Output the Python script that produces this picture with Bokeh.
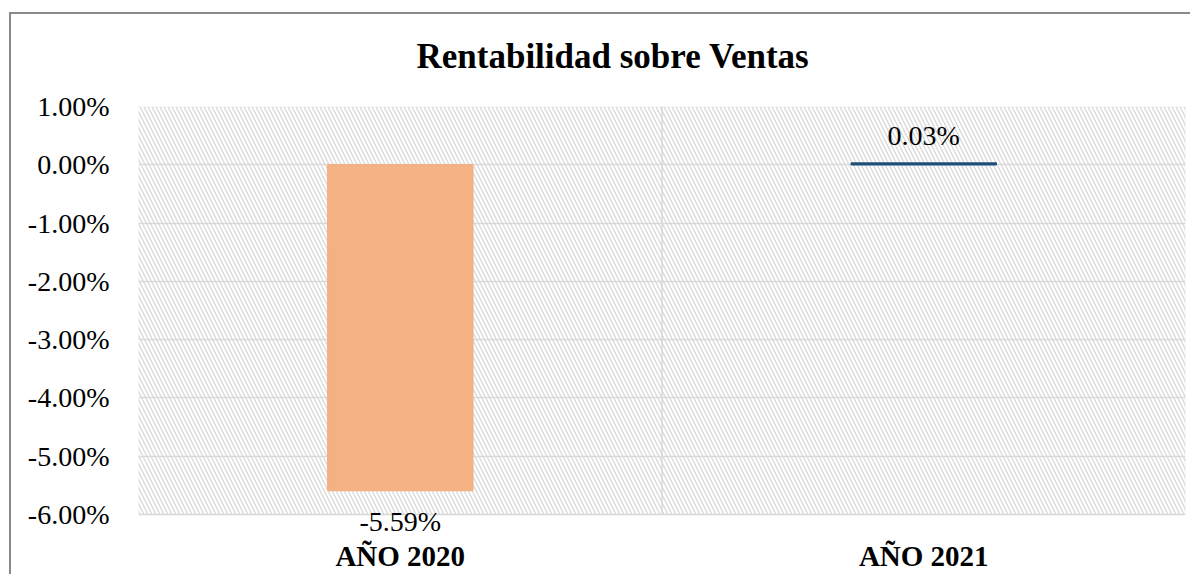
from bokeh.plotting import figure
from bokeh.models import (ColumnDataSource, Range1d, FactorRange, SingleIntervalTicker,
                          PrintfTickFormatter, BoxAnnotation, LabelSet, Title)
from bokeh.embed import file_html
from bokeh.resources import INLINE

# ---- data ----
categories = ["AÑO 2020", "AÑO 2021"]
values = [-5.59, 0.03]
value_labels = ["-5.59%", "0.03%"]
bar_colors = ["#F4B183", "#1F4E79"]
label_offsets = [-31, 28]
title_text = "Rentabilidad sobre Ventas"

# axis limits (visible plot area) and extra room below for the data label
y_min, y_max = -6, 1
y_pad = 0.36

FONT = "Liberation Serif"

src = ColumnDataSource(dict(cat=categories, val=values, lab=value_labels,
                            col=bar_colors, off=label_offsets))

p = figure(x_range=FactorRange(*categories), y_range=Range1d(y_min - y_pad, y_max),
           title=None,
           width=1181, height=562, output_backend="svg", toolbar_location=None,
           min_border_left=127, min_border_right=7, min_border_top=92, min_border_bottom=41)
p.styles = {"border-left": "2px solid #8a8a8a", "border-top": "2px solid #8a8a8a",
            "margin-left": "9px", "margin-top": "12px"}

# spacer panel between the plot area and the title, then the title itself
p.add_layout(Title(text=" ", text_font_size="2px", standoff=27), "above")
p.add_layout(Title(text=title_text, align="left", offset=278, vertical_align="bottom",
                   text_font=FONT, text_font_size="35px", text_font_style="bold",
                   text_color="#000000", standoff=0), "above")

# hatched plot-area background with its light border
p.add_layout(BoxAnnotation(bottom=y_min, top=y_max, fill_alpha=0,
                           line_color="#d9d9d9", line_width=1.5,
                           hatch_pattern="\\", hatch_color="#d8d8d8",
                           hatch_scale=8, hatch_weight=1.3, level="image"))

# vertical separator between categories
p.segment(x0=[1], y0=[y_min], x1=[1], y1=[y_max], line_color="#d9d9d9", line_width=1.5)

p.vbar(x="cat", top="val", bottom=0, width=0.277, source=src,
       fill_color="col", line_color="col", line_width=1.5)

p.add_layout(LabelSet(x="cat", y="val", text="lab", y_offset="off", source=src,
                      text_align="center", text_baseline="middle",
                      text_font=FONT, text_font_size="28px", text_color="#000000"))

p.outline_line_color = None

p.xgrid.grid_line_color = None
p.ygrid.grid_line_color = "#d9d9d9"
p.ygrid.grid_line_width = 1.5

p.yaxis.ticker = SingleIntervalTicker(interval=1)
p.yaxis.formatter = PrintfTickFormatter(format="%.2f%%")
for ax in (p.xaxis, p.yaxis):
    ax.axis_line_color = None
    ax.major_tick_line_color = None
    ax.minor_tick_line_color = None
    ax.major_tick_out = 0
    ax.major_tick_in = 0
    ax.minor_tick_out = 0
    ax.major_label_text_font = FONT
    ax.major_label_text_color = "#000000"
p.yaxis.major_label_text_font_size = "28px"
p.xaxis.major_label_text_font_size = "29px"
p.yaxis.major_label_standoff = 29
p.xaxis.major_label_standoff = 4
p.xaxis.major_label_text_font_style = "bold"

p.background_fill_color = "white"
p.border_fill_color = "white"

open("out.html", "w").write(file_html(p, INLINE))
